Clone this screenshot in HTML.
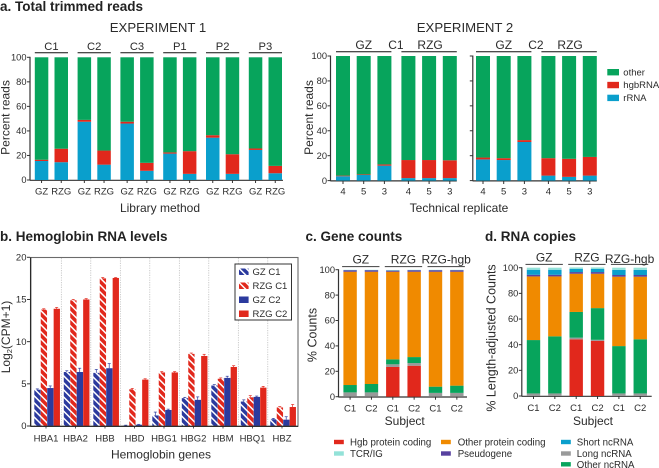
<!DOCTYPE html>
<html lang="en">
<head>
<meta charset="utf-8">
<title>RNA sequencing read composition</title>
<style>
html,body{margin:0;padding:0;background:#fff;width:659px;height:468px;overflow:hidden}
svg{display:block;font-family:"Liberation Sans",Arial,sans-serif}
text{fill:#2b2b2b}
.ttl{font-weight:bold;font-size:13.5px;fill:#222}
.exp{font-size:13.2px}
.axt{font-size:12px}
.axl{font-size:12.5px}
.grp{font-size:11.2px}
.grp2{font-size:12px}
.tk{font-size:9.5px}
.tky{font-size:9.3px}
.leg{font-size:9.7px}
</style>
</head>
<body>
<svg id="chart" width="659" height="468" viewBox="0 0 659 468" xmlns="http://www.w3.org/2000/svg">
<defs>
<pattern id="hatchBlue" patternUnits="userSpaceOnUse" width="5" height="5" patternTransform="rotate(45)">
<rect width="5" height="5" fill="#2b3a9e"/><rect width="5" height="1.5" fill="#fff"/>
</pattern>
<pattern id="hatchRed" patternUnits="userSpaceOnUse" width="5" height="5" patternTransform="rotate(45)">
<rect width="5" height="5" fill="#e1281c"/><rect width="5" height="1.5" fill="#fff"/>
</pattern>
</defs>
<text class="ttl" x="0" y="11">a. Total trimmed reads</text>
<text class="ttl" x="0" y="241">b. Hemoglobin RNA levels</text>
<text class="ttl" x="305.5" y="241">c. Gene counts</text>
<text class="ttl" x="485" y="241">d. RNA copies</text>
<text class="exp" x="158" y="32" text-anchor="middle">EXPERIMENT 1</text>
<text class="exp" x="465" y="32" text-anchor="middle">EXPERIMENT 2</text>
<text class="axt" x="160" y="212" text-anchor="middle">Library method</text>
<text class="axt" x="459" y="212" text-anchor="middle">Technical replicate</text>
<text class="axt" x="161" y="458.5" text-anchor="middle">Hemoglobin genes</text>
<text class="axt" x="404.7" y="425" text-anchor="middle">Subject</text>
<text class="axt" x="593" y="425" text-anchor="middle">Subject</text>
<text class="axt" transform="translate(9.5,117.5) rotate(-90)" text-anchor="middle">Percent reads</text>
<text class="axt" transform="translate(313,117.5) rotate(-90)" text-anchor="middle">Percent reads</text>
<text class="axt" transform="translate(10,337) rotate(-90)" text-anchor="middle">Log<tspan font-size="7.5" dy="2">2</tspan><tspan dy="-2">(CPM+1)</tspan></text>
<text class="axl" transform="translate(316.7,335) rotate(-90)" text-anchor="middle">% Counts</text>
<text class="axl" transform="translate(495.7,338) rotate(-90)" text-anchor="middle">% Length-adjusted Counts</text>
<g id="marks"></g>
</svg>
<script>
// ---- Panel a, experiment 1 ----
const exp1Methods = ["GZ","RZG","GZ","RZG","GZ","RZG","GZ","RZG","GZ","RZG","GZ","RZG"];
const exp1Samples = ["C1","C2","C3","P1","P2","P3"];
const exp1Rrna = [15.5,14.5,47.5,12.5,46,7.5,21.5,5,34.5,5,24.5,5.5];
const exp1Hgb = [1,11,1.5,11.5,1.5,6.5,1,18.5,2,16,1.2,6];
// ---- Panel a, experiment 2 ----
const exp2Replicates = ["4","5","3","4","5","3"];
const exp2C1Rrna = [3.5,4.5,12,2,2,2];
const exp2C1Hgb = [0.5,0.5,1,14.5,14.5,14.3];
const exp2C2Rrna = [17,16.5,31,4,3,4];
const exp2C2Hgb = [1.5,1.5,1.5,14,14.5,15];
const readTicks = [0,20,40,60,80,100];
const readLegend = ["other","hgbRNA","rRNA"];
// ---- Panel b ----
const genes = ["HBA1","HBA2","HBB","HBD","HBG1","HBG2","HBM","HBQ1","HBZ"];
const hemoSeries = ["GZ C1","RZG C1","GZ C2","RZG C2"];
const gzC1Levels = [4.3,6.4,6.3,0.05,1.25,3.3,4.8,2.9,0.8];
const rzgC1Levels = [13.8,14.9,17.5,4.35,6.35,8.55,5.6,3.4,2.2];
const gzC2Levels = [4.5,6.4,6.85,0.15,1.9,3.1,5.7,3.45,0.75];
const rzgC2Levels = [13.9,15,17.55,5.5,6.35,8.3,7,4.55,2.25];
const gzC1Errors = [0.1,0.15,0.4,0.05,0.4,0.1,0.1,0.2,0.1];
const rzgC1Errors = [0.1,0.1,0.1,0.1,0.1,0.1,0.1,0.2,0.1];
const gzC2Errors = [0.25,0.45,0.55,0.05,0.1,0.35,0.2,0.1,0.35];
const rzgC2Errors = [0.15,0.1,0.05,0.1,0.1,0.2,0.15,0.15,0.3];
const hemoTicks = [0,5,10,15,20];
// ---- Panels c and d: segment sizes per bar, bottom to top ----
const subjects = ["C1","C2","C1","C2","C1","C2"];
const methodGroups = ["GZ","RZG","RZG-hgb"];
const pctTicks = [0,20,40,60,80,100];
const compLegend = ["Hgb protein coding","TCR/IG","Other protein coding","Pseudogene","Short ncRNA","Long ncRNA","Other ncRNA"];
const countHgb = [0,0,23.4,24.4,0,0];
const countLong = [3.4,3.4,2.1,2.1,3,3];
const countOtherNc = [5.8,6.6,3.9,4.7,4.9,5.7];
const countProtein = [89.2,88.4,69,67.2,90.5,89.7];
const countPseudo = [1.2,1.2,0.9,1.2,1.2,1.2];
const countShort = [0.1,0.1,0.1,0.1,0.1,0.1];
const countTcr = [0.2,0.2,0.4,0.2,0.2,0.2];
const copyHgb = [0,0,44.2,42.9,0,0];
const copyLong = [2,2,1.3,0.9,2,2];
const copyOtherNc = [41.6,44.5,20,24.7,36.9,42.2];
const copyProtein = [49.6,46.7,29.8,26.8,54.1,48.8];
const copyPseudo = [1.3,1.3,1.3,1.3,1.3,1.3];
const copyShort = [3.9,3.9,2.4,2.4,4,4];
const copyTcr = [1.6,1.6,1.2,1.2,1.7,1.7];

const COL = {other:"#07a45c",red:"#e1281c",blue:"#0a9fcc",orange:"#f08a00",purple:"#57419f",grey:"#999a9a",cyan:"#93e2d8",navy:"#2b3a9e"};
const NS = "http://www.w3.org/2000/svg";
const root = document.getElementById("marks");

function scale(d0,d1,r0,r1){return v=>r0+(v-d0)*(r1-r0)/(d1-d0);}

function line(x1,y1,x2,y2,stroke,w,name,dash){
  const el=document.createElementNS(NS,"line");
  el.setAttribute("x1",x1);el.setAttribute("y1",y1);el.setAttribute("x2",x2);el.setAttribute("y2",y2);
  el.setAttribute("stroke",stroke);el.setAttribute("stroke-width",w);
  if(dash)el.setAttribute("stroke-dasharray",dash);
  
  
  root.appendChild(el);
  return el;
}
function rect(x,y,w,h,fill,name){
  const el=document.createElementNS(NS,"rect");
  el.setAttribute("x",x);el.setAttribute("y",y);el.setAttribute("width",w);el.setAttribute("height",Math.max(0,h));
  el.setAttribute("fill",fill);
  
  
  root.appendChild(el);
  return el;
}
function label(x,y,str,cls,anchor,name){
  const el=document.createElementNS(NS,"text");
  el.setAttribute("x",x);el.setAttribute("y",y);
  el.setAttribute("class",cls);el.setAttribute("text-anchor",anchor);
  el.textContent=str;
  
  
  root.appendChild(el);
  return el;
}
function yAxis(x,y,ticks,name,labels){
  ticks.forEach(t=>{
    line(x-3,y(t),x,y(t),"#333",1,name+"-tick");
    if(labels)label(x-3.5,y(t)+3.2,String(t),"tky","end",name+"-tick-label");
  });
  line(x,y(ticks[ticks.length-1])-0.5,x,y(ticks[0])+0.6,"#333",1.2,name+"-line");
}
function stackBar(x,w,y,segs,name){
  let cum=0;
  segs.forEach(s=>{
    rect(x,y(cum+s.v),w,y(cum)-y(cum+s.v),s.c,name+"-"+s.n);
    cum+=s.v;
  });
}
function groupRule(x1,x2,y,txt,tx,ty,color,name,cls){
  line(x1,y,x2,y,color,1,name+"-bracket");
  label(tx,ty,txt,cls||"grp","middle",name+"-label");
}

// Panel a, experiment 1
(function(){
  const y=scale(0,100,180,57.3), w=13.5;
  const bx=i=>34.8+Math.floor(i/2)*42.8+(i%2)*19.7;
  yAxis(30,y,readTicks,"exp1-y-axis",true);
  line(30,180.3,283,180.3,"#333",1.2,"exp1-x-axis");
  exp1Methods.forEach((m,i)=>{
    const h=exp1Hgb[i], r=exp1Rrna[i];
    stackBar(bx(i),w,y,[{v:r,c:COL.blue,n:"rrna"},{v:h,c:COL.red,n:"hgbrna"},{v:100-r-h,c:COL.other,n:"other"}],"exp1-bar");
    line(bx(i)+w/2,180,bx(i)+w/2,183,"#333",1,"exp1-x-tick");
    label(bx(i)+w/2,194.5,m,"tk","middle","exp1-x-tick-label");
  });
  exp1Samples.forEach((s,g)=>{
    const a=bx(g*2), b=bx(g*2+1)+w;
    groupRule(a,b,52.8,s,(a+b)/2,50,"#111","exp1-sample-"+s);
  });
})();

// Panel a, experiment 2
(function(){
  const y=scale(0,100,180.6,56), w=14;
  const bx=(o,i)=>o+i*20.7+(i>2?3.3:0);
  function facet(axisX,o,rr,hh,id,lab,showLabels){
    yAxis(axisX,y,readTicks,id+"-y-axis",showLabels);
    line(axisX,180.9,o+bx(0,5)+w,180.9,"#333",1.2,id+"-x-axis");
    exp2Replicates.forEach((m,i)=>{
      const x=bx(o,i);
      stackBar(x,w,y,[{v:rr[i],c:COL.blue,n:"rrna"},{v:hh[i],c:COL.red,n:"hgbrna"},{v:100-rr[i]-hh[i],c:COL.other,n:"other"}],id+"-bar");
      line(x+w/2,181,x+w/2,184,"#333",1,id+"-x-tick");
      label(x+w/2,194.5,m,"tk","middle",id+"-x-tick-label");
    });
    groupRule(o,bx(o,2)+w,51.7,"GZ",bx(o,1)+w/2,49,"#111",id+"-gz","grp2");
    groupRule(bx(o,3),bx(o,5)+w,51.7,"RZG",bx(o,4)+w/2+1,49,"#111",id+"-rzg","grp2");
    label(bx(o,2)+w+4.5,49,lab,"grp2","middle",id+"-sample-label");
  }
  facet(330.5,336,exp2C1Rrna,exp2C1Hgb,"exp2-c1","C1",true);
  facet(472.8,476,exp2C2Rrna,exp2C2Hgb,"exp2-c2","C2",false);
  const cols=[COL.other,COL.red,COL.blue];
  readLegend.forEach((t,i)=>{
    rect(607.3,69+i*12.85,11.7,6.4,cols[i],"read-legend-swatch-"+t);
    label(623.3,75.3+i*12.85,t,"tk","start","read-legend-label-"+t);
  });
})();

// Panel b
(function(){
  const y=scale(0,20,426,257.3), bw=6.4;
  const groupX=g=>31.5+g*29.5;
  for(let g=1;g<genes.length;g++){
    line(groupX(g)+0.3,258,groupX(g)+0.3,426,"#b5b5b5",0.7,"gene-separator","1.2 1.2");
  }
  const series=[gzC1Levels,rzgC1Levels,gzC2Levels,rzgC2Levels];
  const errs=[gzC1Errors,rzgC1Errors,gzC2Errors,rzgC2Errors];
  const fills=["url(#hatchBlue)","url(#hatchRed)",COL.navy,COL.red];
  const errCols=[COL.navy,COL.red,COL.navy,COL.red];
  genes.forEach((gene,g)=>{
    series.forEach((vals,s)=>{
      const x=groupX(g)+2.8+s*6.45, v=vals[g], e=errs[s][g];
      rect(x,y(v),bw-0.1,426-y(v),fills[s],"bar-"+gene.toLowerCase()+"-"+hemoSeries[s].toLowerCase().replace(" ","-"));
      line(x+bw/2-0.2,y(v),x+bw/2-0.2,y(v+e),errCols[s],0.7,"error-bar");
      line(x+bw/2-1.7,y(v+e),x+bw/2+1.3,y(v+e),errCols[s],0.7,"error-cap");
    });
    label(groupX(g)+14.5,441.3,gene,"tk","middle","gene-label-"+gene.toLowerCase());
    line(groupX(g)+14.5,426,groupX(g)+14.5,428.5,"#333",0.8,"gene-tick");
  });
  hemoTicks.forEach(t=>{
    line(27,y(t),30,y(t),"#333",1,"hemoglobin-y-tick");
    label(26.5,y(t)+3.2,String(t),"tk","end","hemoglobin-y-tick-label");
  });
  const frame=rect(30.5,257.5,267.5,168.8,"none","hemoglobin-plot-frame");
  frame.setAttribute("stroke","#6b6b6b");frame.setAttribute("stroke-width","1.1");
  line(30.7,257.5,30.7,426.3,"#222",1.2,"hemoglobin-y-axis");
  line(30.5,426.3,298,426.3,"#222",1.2,"hemoglobin-x-axis");
  const box=rect(235,264,56.5,56,"#fff","hemoglobin-legend-box");
  box.setAttribute("stroke","#333");box.setAttribute("stroke-width","1");
  hemoSeries.forEach((t,i)=>{
    rect(239,268.5+i*14,9.6,6.5,fills[i],"hemoglobin-legend-swatch");
    label(252.5,275+i*14,t,"tk","start","hemoglobin-legend-label");
  });
})();

// Panels c, d
function compPanel(id,axisX,x0,y0,y100,endX,S,rulePos,ruleCol){
  const y=scale(0,100,y0,y100), w=13.4, step=21.35;
  const bx=i=>x0+i*step;
  yAxis(axisX,y,pctTicks,id+"-y-axis",true);
  line(axisX,y0+0.3,endX,y0+0.3,"#333",1.2,id+"-x-axis");
  subjects.forEach((s,i)=>{
    stackBar(bx(i),w,y,[
      {v:S[0][i],c:COL.red,n:"hgb"},{v:S[1][i],c:COL.grey,n:"long-ncrna"},{v:S[2][i],c:COL.other,n:"other-ncrna"},
      {v:S[3][i],c:COL.orange,n:"other-protein"},{v:S[4][i],c:COL.purple,n:"pseudogene"},{v:S[5][i],c:COL.blue,n:"short-ncrna"},{v:S[6][i],c:COL.cyan,n:"tcr-ig"}
    ],id+"-bar");
    line(bx(i)+w/2,y0,bx(i)+w/2,y0+3,"#333",1,id+"-x-tick");
    label(bx(i)+w/2,y0+15,s,"tk","middle",id+"-x-tick-label");
  });
  methodGroups.forEach((g,k)=>{
    const a=bx(k*2), b=bx(k*2+1)+w;
    line(a-1.3,rulePos,b+1.3,rulePos,ruleCol,1.1,id+"-group-bracket");
    const lift=(id==="copies"&&g==="RZG-hgb")?1.5:3;
    label((a+b)/2,rulePos-lift,g,"grp2","middle",id+"-group-label");
  });
}
compPanel("counts",338.5,343.4,396.7,269.7,467,[countHgb,countLong,countOtherNc,countProtein,countPseudo,countShort,countTcr],266.6,"#555");
compPanel("copies",521.8,526.8,396,267.7,651.7,[copyHgb,copyLong,copyOtherNc,copyProtein,copyPseudo,copyShort,copyTcr],264.4,"#555");

// Composition legend
(function(){
  const colors=[COL.red,COL.cyan,COL.orange,COL.purple,COL.blue,COL.grey,COL.other];
  const col=[334,441,561], txt=[350,457.7,576.8], row=[442,453.5];
  compLegend.forEach((t,i)=>{
    const c=i<2?0:(i<4?1:2), r=c<2?(i%2):(i-4);
    const yy=r<2?row[r]:464.3;
    rect(col[c],yy-2.2,9.8,4.4,colors[i],"composition-legend-swatch");
    label(txt[c],yy+3.5,t,"leg","start","composition-legend-label");
  });
})();
</script>
</body>
</html>
